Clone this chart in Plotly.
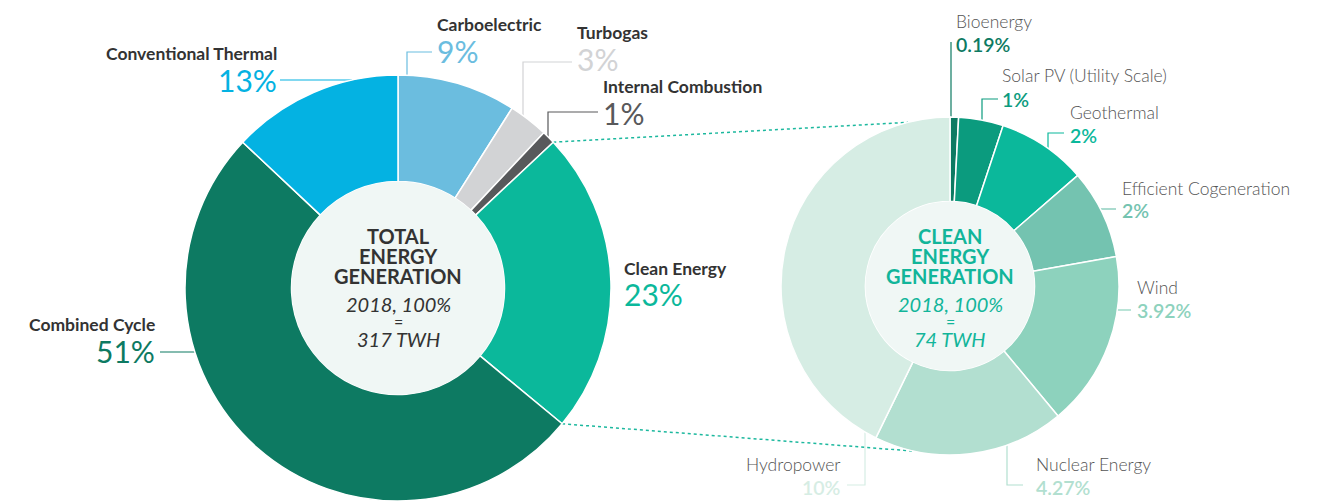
import math
import plotly.graph_objects as go

# total generation 2018 (% of 317 TWh), clockwise from 12 o'clock
total_labels = ["Carboelectric", "Turbogas", "Internal Combustion", "Clean Energy",
                "Combined Cycle", "Conventional Thermal"]
total_values = [9, 3, 1, 23, 51, 13]
total_text = ["9%", "3%", "1%", "23%", "51%", "13%"]
total_colors = ["#6bbddf", "#d2d3d5", "#58595b", "#0bb89b", "#0d7a62", "#04b2e2"]

# clean energy breakdown (% of total), clockwise from 12 o'clock
clean_labels = ["Bioenergy", "Solar PV (Utility Scale)", "Geothermal", "Efficient Cogeneration",
                "Wind", "Nuclear Energy", "Hydropower"]
clean_values = [0.19, 1, 2, 2, 3.92, 4.27, 10]
clean_text = ["0.19%", "1%", "2%", "2%", "3.92%", "4.27%", "10%"]
clean_colors = ["#0d7a62", "#0b9b7e", "#0bb89b", "#74c3b0", "#8dd2bd", "#b2dfd0", "#d6ede4"]

W, H = 1319, 501
FONT = "Lato"

# pie geometry in pixels
cx1, cy1, R1 = 398, 288, 213
cx2, cy2, R2 = 950, 286, 169
HOLE = 0.5


def domain(cx, cy, r):
    return dict(x=[(cx - r) / W, (cx + r) / W], y=[(H - cy - r) / H, (H - cy + r) / H])


def edge_y(cx, cy, r, x, side):
    return cy + side * math.sqrt(r * r - (x - cx) ** 2)


def edge_x(cx, cy, r, y, side):
    return cx + side * math.sqrt(r * r - (y - cy) ** 2)


def polar(cx, cy, r, deg):
    a = math.radians(deg)
    return cx + r * math.sin(a), cy - r * math.cos(a)


fig = go.Figure()

# dotted connectors from the clean-energy slice to the second donut
tot = sum(total_values)
start = sum(total_values[:3]) / tot * 360
end = sum(total_values[:4]) / tot * 360
p_top = polar(cx1, cy1, R1, start)
p_bot = polar(cx1, cy1, R1, end)
q_top = polar(cx2, cy2, R2, -14.4)
q_bot = polar(cx2, cy2, R2, 192.2)
for p, q in [(p_top, q_top), (p_bot, q_bot)]:
    fig.add_trace(go.Scatter(x=[p[0], q[0]], y=[p[1], q[1]], mode="lines",
                             line=dict(color="#1cb89e", width=1.5, dash="dot"),
                             hoverinfo="skip", showlegend=False))

fig.add_trace(go.Pie(labels=total_labels, values=total_values, sort=False,
                     direction="clockwise", rotation=0, hole=HOLE,
                     marker=dict(colors=total_colors, line=dict(color="white", width=1.5)),
                     textinfo="none", domain=domain(cx1, cy1, R1), showlegend=False))
fig.add_trace(go.Pie(labels=clean_labels, values=clean_values, sort=False,
                     direction="clockwise", rotation=0, hole=HOLE,
                     marker=dict(colors=clean_colors, line=dict(color="white", width=1.5)),
                     textinfo="none", domain=domain(cx2, cy2, R2), showlegend=False))

shapes = []
# center discs
for cx, cy, r in [(cx1, cy1, R1 * HOLE), (cx2, cy2, R2 * HOLE)]:
    shapes.append(dict(type="circle", xref="x", yref="y", x0=cx - r, x1=cx + r,
                       y0=cy - r, y1=cy + r, fillcolor="#f0f7f5",
                       line=dict(width=0), layer="above"))


def leader(points, color):
    path = "M " + " L ".join(f"{x:.1f},{y:.1f}" for x, y in points)
    shapes.append(dict(type="path", xref="x", yref="y", path=path,
                       line=dict(color=color, width=1.2), layer="below"))


# left leaders
leader([(280, 80), (edge_x(cx1, cy1, R1, 80, -1), 80)], total_colors[5])
leader([(432, 52), (407, 52), (407, edge_y(cx1, cy1, R1, 407, -1))], total_colors[0])
leader([(572, 62), (523, 62), (523, edge_y(cx1, cy1, R1, 523, -1))], total_colors[1])
leader([(598, 112), (548, 112), (548, edge_y(cx1, cy1, R1, 548, -1))], total_colors[2])
leader([(160, 352), (edge_x(cx1, cy1, R1, 352, -1), 352)], total_colors[4])
# right leaders
leader([(951, 42), (951, edge_y(cx2, cy2, R2, 951, -1))], clean_colors[0])
leader([(998, 99), (982, 99), (982, edge_y(cx2, cy2, R2, 982, -1))], clean_colors[1])
leader([(1064, 133), (1048, 133), (1048, edge_y(cx2, cy2, R2, 1048, -1))], clean_colors[2])
leader([(1116, 209), (edge_x(cx2, cy2, R2, 209, 1), 209)], clean_colors[3])
leader([(1131, 310), (edge_x(cx2, cy2, R2, 310, 1), 310)], clean_colors[4])
leader([(1023, 485), (1007, 485), (1007, edge_y(cx2, cy2, R2, 1007, 1))], clean_colors[5])
leader([(847, 485), (865, 485), (865, edge_y(cx2, cy2, R2, 865, 1))], clean_colors[6])

ann = []


def text(x, y, s, size, color, anchor="left", weight=400, italic=False):
    if italic:
        s = f"<i>{s}</i>"
    ann.append(dict(x=x, y=y, xref="x", yref="y", text=s, showarrow=False,
                    xanchor=anchor, yanchor="middle", borderpad=0,
                    font=dict(family=FONT, size=size, color=color, weight=weight)))


DARK = "#333333"
LIGHT = "#555555"
# left pie labels: (name x, name y, pct y, anchor)
left_pos = {
    "Carboelectric": (436, 24, 51, "left"),
    "Turbogas": (576, 32, 59, "left"),
    "Internal Combustion": (602, 86, 113, "left"),
    "Clean Energy": (623, 268, 294, "left"),
    "Combined Cycle": (156, 324, 351, "right"),
    "Conventional Thermal": (278, 53, 80, "right"),
}
for lab, pct, col in zip(total_labels, total_text, total_colors):
    x, yn, yp, a = left_pos[lab]
    text(x, yn, lab, 17.5, DARK, a, 700)
    text(x, yp, pct, 30, col, a, 400)

right_pos = {
    "Bioenergy": (955, 21, 44, "left"),
    "Solar PV (Utility Scale)": (1001, 75, 99, "left"),
    "Geothermal": (1069, 112, 135, "left"),
    "Efficient Cogeneration": (1121, 188, 210, "left"),
    "Wind": (1136, 287, 310, "left"),
    "Nuclear Energy": (1035, 464, 487, "left"),
    "Hydropower": (842, 464, 487, "right"),
}
for lab, pct, col in zip(clean_labels, clean_text, clean_colors):
    x, yn, yp, a = right_pos[lab]
    text(x, yn, lab, 17.5, LIGHT, a, 300)
    text(x, yp, pct, 19.5, col, a, 600)

# center titles
for cx, lines, sub, col in [(cx1, ["TOTAL", "ENERGY", "GENERATION"], "317 TWH", DARK),
                            (cx2, ["CLEAN", "ENERGY", "GENERATION"], "74 TWH", "#12b59a")]:
    for i, ln in enumerate(lines):
        text(cx, 236 + 20 * i, ln, 20, col, "center", 700)
    text(cx, 304, "2018, 100%", 20, col, "center", 400, italic=True)
    text(cx, 321, "=", 16, col, "center", 400)
    text(cx, 339, sub, 20, col, "center", 400, italic=True)

fig.update_layout(
    width=W, height=H,
    margin=dict(l=0, r=0, t=0, b=0),
    paper_bgcolor="white", plot_bgcolor="white",
    xaxis=dict(range=[0, W], visible=False, fixedrange=True, domain=[0, 1]),
    yaxis=dict(range=[H, 0], visible=False, fixedrange=True, domain=[0, 1]),
    shapes=shapes, annotations=ann,
    showlegend=False,
)

# page body margin would otherwise offset the figure inside the window
fig.write_html("out.html", config={"displayModeBar": False},
               post_script="document.body.style.margin='0';")
